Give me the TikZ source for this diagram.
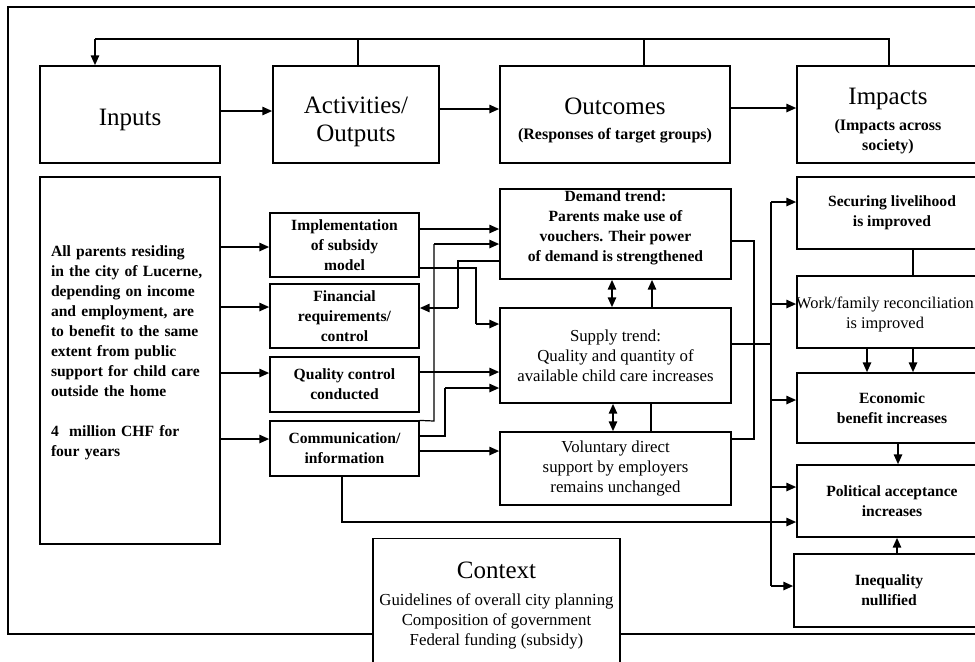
\documentclass[tikz,border=0pt]{standalone}
\usepackage{fontspec}
\setmainfont{Liberation Serif}
\usetikzlibrary{arrows.meta}
\newcommand{\subtxt}[1]{{\fontsize{8}{10}\selectfont\bfseries #1}}
\tikzset{
    plain_box/.style = {draw=black, line width=0.6pt, fill=white, align=center, inner sep=1pt},
    big_text/.style = {font=\fontsize{12.5}{14}\selectfont, align=center},
    bold_text/.style = {font=\fontsize{7.8}{10}\selectfont\bfseries},
    plain_text/.style = {font=\fontsize{8.4}{10}\selectfont},
    top_box/.style = {plain_box, minimum height=48.5pt},
    act_box/.style = {plain_box, bold_text, minimum width=74.5pt},
    out_box/.style = {plain_box, minimum width=115.5pt},
    imp_box/.style = {plain_box, minimum width=95pt},
    thick_arrow/.style = {->, line width=1.2pt},
    thin_line/.style = {line width=0.6pt},
    thick_line/.style = {line width=1.2pt}
}

\begin{document}
\begin{tikzpicture}[x=0.5pt, y=-0.5pt, >={Triangle[length=5pt,width=4pt]}]
\path[use as bounding box] (0,0) rectangle (975,661);
\clip (0,0) rectangle (975,661);
\draw[line width=0.7pt] (8,7) rectangle (995,634);

% top row
\node[top_box, minimum width=90pt] (inputs) at (130,114.5) {};
\node[top_box, minimum width=83pt] (activities) at (356,114.5) {};
\node[top_box, minimum width=115pt] (outcomes) at (615,114.5) {};
\node[top_box, minimum width=91pt] (impacts) at (888,114.5) {};
\node[big_text] (inputs_text) at (130,120) {Inputs};
\node[big_text] (activities_text) at (356,121.5) {Activities/\\Outputs};
\node[big_text] (outcomes_text) at (615,120.5) {Outcomes\\[-1.5pt]\subtxt{(Responses of target groups)}};
\node[big_text] (impacts_text) at (888,121) {Impacts\\[-1pt]\subtxt{(Impacts across}\\[-4pt]\subtxt{society)}};

% inputs
\node[plain_box, minimum width=90pt, minimum height=183.5pt] (target_groups) at (130,360.5) {};
\node[bold_text, align=left, text width=82pt, inner sep=0pt] (target_text) at (133,353)
    {All parents residing\\in the city of Lucerne,\\depending on income\\and employment, are\\to benefit to the same\\extent from public\\support for child care\\outside the home\\[10pt]4~~million CHF for\\four years};

% activities
\node[act_box, minimum height=32pt] (impl) at (344.5,245) {Implementation\\of subsidy\\model};
\node[act_box, minimum height=32pt] (fin) at (344.5,316) {Financial\\requirements/\\control};
\node[act_box, minimum height=27.5pt] (qual) at (344.5,384.5) {Quality control\\conducted};
\node[act_box, minimum height=27.5pt] (comm) at (344.5,448.5) {Communication/\\information};

% outcomes
\node[out_box, minimum height=45pt] (demand) at (615.5,234) {};
\node[bold_text, align=center] (demand_text) at (615.5,227.5) {Demand trend:\\Parents make use of\\vouchers. Their power\\of demand is strengthened};
\node[out_box, plain_text, minimum height=47.5pt] (supply) at (615.5,355.5) {Supply trend:\\Quality and quantity of\\available child care increases};
\node[out_box, plain_text, minimum height=36.5pt] (voluntary) at (615.5,468.5) {Voluntary direct\\support by employers\\remains unchanged};

% impacts
\node[imp_box, bold_text, minimum height=36pt] (securing) at (892,213) {Securing livelihood\\is improved};
\node[imp_box, minimum height=36pt] (work) at (892,312) {};
\node[plain_text, align=center, font=\fontsize{8.2}{10}\selectfont] (work_text) at (885,314.5) {Work/family reconciliation\\is improved};
\node[imp_box, bold_text, minimum height=35pt] (economic) at (892,408) {Economic\\benefit increases};
\node[imp_box, bold_text, minimum height=36pt] (political) at (892,501) {Political acceptance\\increases};
\node[imp_box, bold_text, minimum height=36.5pt] (inequality) at (889,590.5) {Inequality\\nullified};

% context
\node[plain_box, minimum width=123.5pt, minimum height=70pt, anchor=north] (context) at (496.5,538) {};
\node[plain_text, align=center] (context_text) at (496.5,606)
    {{\fontsize{12.5}{15}\selectfont Context}\\[3.5pt]Guidelines of overall city planning\\Composition of government\\Federal funding (subsidy)};

% top chain and feedback loop
\draw[thick_arrow] (inputs.east |- 0,111) -- (activities.west |- 0,111);
\draw[thick_arrow] (activities.east |- 0,109) -- (outcomes.west |- 0,109);
\draw[thick_arrow] (outcomes.east |- 0,108) -- (impacts.west |- 0,108);
\coordinate (loop_corner) at (95,39);
\draw[thin_line] (impacts.north -| 889,0) -- (889,39) -- (loop_corner);
\draw[thin_line] (outcomes.north -| 644,0) -- (644,39);
\draw[thin_line] (activities.north -| 358,0) -- (358,39);
\draw[thick_arrow] (loop_corner) -- (inputs.north -| loop_corner);

% inputs to activities
\foreach \y/\target in {247/impl, 307/fin, 373/qual, 439/comm}
    \draw[thick_arrow] (target_groups.east |- 0,\y) -- (\target.west |- 0,\y);

% activities to outcomes
\draw[thick_arrow] (impl.east |- 0,229) -- (demand.west |- 0,229);
\draw[thin_line] (comm.north east) -- (434,421) -- (434,244);
\draw[thick_arrow] (434,244) -- (demand.west |- 0,244);
\draw[thin_line] (demand.west |- 0,261) -| (458,308);
\draw[thick_arrow] (458,308) -- (fin.east |- 0,308);
\draw[thin_line] (impl.east |- 0,268) -| (476,324);
\draw[thick_arrow] (476,324) -- (supply.west |- 0,324);
\draw[thick_arrow] (qual.east |- 0,372) -- (supply.west |- 0,372);
\draw[thin_line] (comm.east |- 0,436) -| (445,388);
\draw[thick_arrow] (445,388) -- (supply.west |- 0,388);
\draw[thick_arrow] (comm.east |- 0,451) -- (voluntary.west |- 0,451);
\draw[thick_arrow] (comm.south -| 342,0) |- (political.west |- 0,522);

% between outcomes
\draw[thick_arrow, <->] (demand.south -| 612,0) -- (supply.north -| 612,0);
\draw[thick_arrow] (supply.north -| 652,0) -- (demand.south -| 652,0);
\draw[thick_arrow, <->] (supply.south -| 613,0) -- (voluntary.north -| 613,0);
\draw[thick_line] (supply.south -| 651,0) -- (voluntary.north -| 651,0);

% outcomes to impacts
\draw[thin_line] (demand.east |- 0,241) -| (754,439) -- (voluntary.east |- 0,439);
\coordinate (bus_top) at (771,202);
\coordinate (bus_bottom) at (771,586);
\draw[thin_line] (bus_top) -- (bus_bottom);
\draw[thin_line] (supply.east |- 0,344) -- (bus_top |- 0,344);
\foreach \y/\target in {202/securing, 304/work, 400/economic, 487/political, 586/inequality}
    \draw[thick_arrow] (bus_top |- 0,\y) -- (\target.west |- 0,\y);

% between impacts
\draw[thick_line] (securing.south -| 913,0) -- (work.north -| 913,0);
\draw[thick_arrow] (work.south -| 867,0) -- (economic.north -| 867,0);
\draw[thick_arrow] (work.south -| 913,0) -- (economic.north -| 913,0);
\draw[thick_arrow] (economic.south -| 898,0) -- (political.north -| 898,0);
\draw[thick_arrow] (inequality.north -| 897,0) -- (political.south -| 897,0);
\end{tikzpicture}
\end{document}
